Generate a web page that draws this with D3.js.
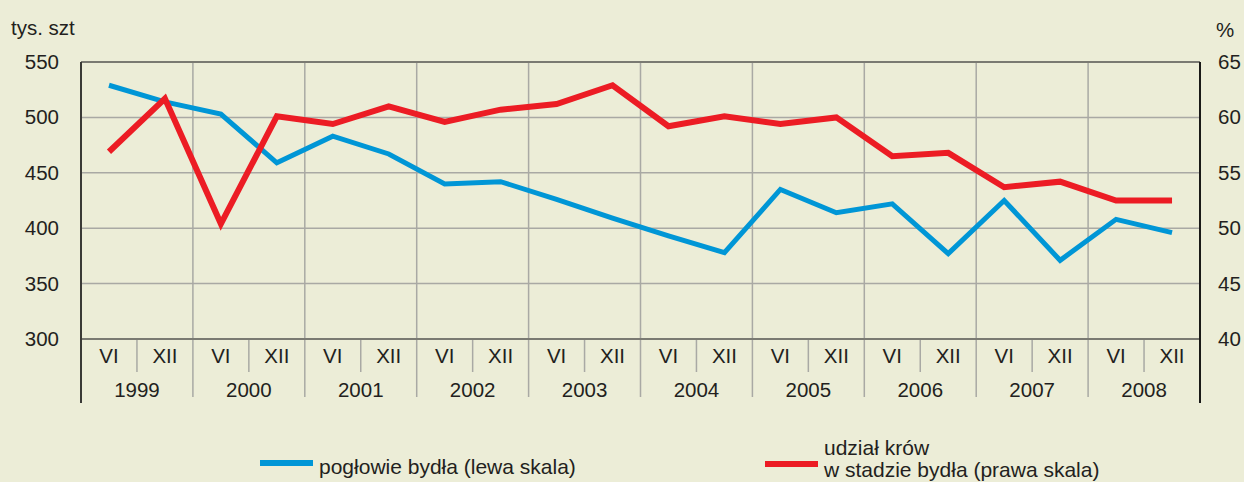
<!DOCTYPE html>
<html>
<head>
<meta charset="utf-8">
<script src="https://cdn.jsdelivr.net/npm/d3@7"></script>
<style>
  body { margin: 0; background: #ecedd7; }
  svg { display: block; }
  text { font-family: "Liberation Sans", Arial, sans-serif; fill: #231f20; }
  .axis path, .axis line { stroke: none; }
</style>
</head>
<body>
<div id="chart"></div>
<script>

// Data
var years = ["1999", "2000", "2001", "2002", "2003", "2004", "2005", "2006", "2007", "2008"];
var months = ["VI", "XII"];
var cattle = [529, 514, 503, 459, 483, 467, 440, 442, 426, 409,
              393, 378, 435, 414, 422, 377, 425, 371, 408, 396];
var cowShare = [56.9, 61.7, 50.4, 60.1, 59.4, 61.0, 59.6, 60.7, 61.2, 62.9,
                59.2, 60.1, 59.4, 60.0, 56.5, 56.8, 53.7, 54.2, 52.5, 52.5];
var leftTicks = [300, 350, 400, 450, 500, 550];
var rightTicks = [40, 45, 50, 55, 60, 65];

// Dimensions
var W = 1244, H = 482;
var margin = {top: 62, right: 44, bottom: 143, left: 81},
width = W - margin.left - margin.right,
height = H - margin.top - margin.bottom;

var svg = d3.select("#chart")
  .append("svg")
  .attr("width", W)
  .attr("height", H);

svg.append("rect").attr("width", W).attr("height", H).attr("fill", "#ecedd7");

var g = svg.append("g")
  .attr("transform", "translate(" + margin.left + "," + margin.top + ")");

// Periods: one per half-year
var periods = [];
years.forEach(function(y) { months.forEach(function(m) { periods.push(y + "-" + m); }); });

var x = d3.scaleBand().domain(periods).range([0, width]);
var xYear = d3.scaleBand().domain(years).range([0, width]);

var yL = d3.scaleLinear().domain([300, 550]).range([height, 0]);
var yR = d3.scaleLinear().domain([40, 65]).range([height, 0]);

// Horizontal gridlines
g.selectAll(".hgrid")
  .data(leftTicks.slice(1, -1))
  .enter().append("line")
  .attr("x1", 0).attr("x2", width)
  .attr("y1", function(d) { return yL(d); })
  .attr("y2", function(d) { return yL(d); })
  .attr("stroke", "#a9a9a4").attr("stroke-width", 1.5);

// Year separators (grid + below axis)
g.selectAll(".vgrid")
  .data(years.slice(1))
  .enter().append("line")
  .attr("x1", function(d) { return xYear(d); })
  .attr("x2", function(d) { return xYear(d); })
  .attr("y1", 0).attr("y2", height + 58)
  .attr("stroke", "#a9a9a4").attr("stroke-width", 1.5);

// Month separators
g.selectAll(".mtick")
  .data(years)
  .enter().append("line")
  .attr("x1", function(d) { return x(d + "-XII"); })
  .attr("x2", function(d) { return x(d + "-XII"); })
  .attr("y1", height).attr("y2", height + 33)
  .attr("stroke", "#a9a9a4").attr("stroke-width", 1.5);

// Top and bottom border
g.append("line").attr("x1", 0).attr("x2", width).attr("y1", 0).attr("y2", 0)
  .attr("stroke", "#7a7a72").attr("stroke-width", 2);
g.append("line").attr("x1", 0).attr("x2", width).attr("y1", height).attr("y2", height)
  .attr("stroke", "#7a7a72").attr("stroke-width", 2);

// Left and right axis lines
g.append("line").attr("x1", 0).attr("x2", 0).attr("y1", 0).attr("y2", height + 64)
  .attr("stroke", "#3a3a36").attr("stroke-width", 2);
g.append("line").attr("x1", width).attr("x2", width).attr("y1", 0).attr("y2", height + 64)
  .attr("stroke", "#1a1a18").attr("stroke-width", 2);

// Y axes
g.append("g").attr("class", "axis")
  .call(d3.axisLeft(yL).tickValues(leftTicks).tickSize(0).tickPadding(22))
  .selectAll("text").style("font-size", "20.5px");

g.append("g").attr("class", "axis")
  .attr("transform", "translate(" + width + ",0)")
  .call(d3.axisRight(yR).tickValues(rightTicks).tickSize(0).tickPadding(18))
  .selectAll("text").style("font-size", "20.5px");

g.selectAll(".axis .domain").remove();

// Month labels
g.selectAll(".mlabel")
  .data(periods)
  .enter().append("text")
  .attr("x", function(d) { return x(d) + x.bandwidth() / 2; })
  .attr("y", height + 24)
  .attr("text-anchor", "middle")
  .style("font-size", "20.5px")
  .text(function(d) { return d.split("-")[1]; });

// Year labels
g.selectAll(".ylabel")
  .data(years)
  .enter().append("text")
  .attr("x", function(d) { return xYear(d) + xYear.bandwidth() / 2; })
  .attr("y", height + 58)
  .attr("text-anchor", "middle")
  .style("font-size", "20.5px")
  .text(function(d) { return d; });

// Lines
var lineL = d3.line()
  .x(function(d, i) { return x(periods[i]) + x.bandwidth() / 2; })
  .y(function(d) { return yL(d); });
var lineR = d3.line()
  .x(function(d, i) { return x(periods[i]) + x.bandwidth() / 2; })
  .y(function(d) { return yR(d); });

g.append("path").datum(cattle)
  .attr("d", lineL)
  .attr("fill", "none").attr("stroke", "#0096d6").attr("stroke-width", 5);

g.append("path").datum(cowShare)
  .attr("d", lineR)
  .attr("fill", "none").attr("stroke", "#ec1c24").attr("stroke-width", 6);

// Units
svg.append("text").attr("x", 11).attr("y", 35).style("font-size", "20.5px").text("tys. szt");
svg.append("text").attr("x", 1216).attr("y", 37).style("font-size", "20.5px").text("%");

// Legend
svg.append("line").attr("x1", 260).attr("x2", 313).attr("y1", 463).attr("y2", 463)
  .attr("stroke", "#0096d6").attr("stroke-width", 6);
svg.append("text").attr("x", 319).attr("y", 474).style("font-size", "21px")
  .text("pogłowie bydła (lewa skala)");

svg.append("line").attr("x1", 765).attr("x2", 818).attr("y1", 464).attr("y2", 464)
  .attr("stroke", "#ec1c24").attr("stroke-width", 6);
svg.append("text").attr("x", 824).attr("y", 455).style("font-size", "21px")
  .text("udział krów");
svg.append("text").attr("x", 824).attr("y", 477).style("font-size", "21px")
  .text("w stadzie bydła (prawa skala)");

</script>
</body>
</html>
